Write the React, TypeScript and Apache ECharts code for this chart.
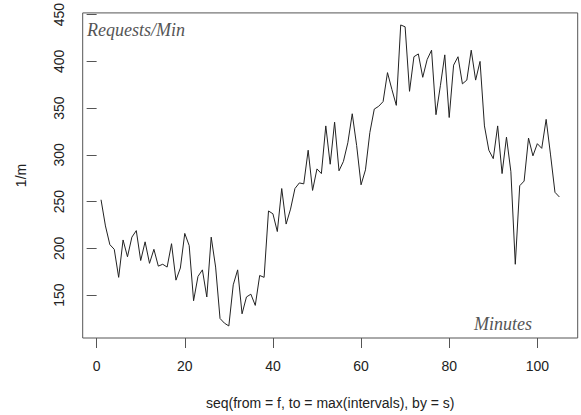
import React, { useEffect, useRef } from "react";
import * as echarts from "echarts";

// Requests per minute (x = 1..105)
const requestsPerMin: number[] = [
  252, 224, 204, 199, 169, 209, 191, 212, 219, 187,
  207, 184, 199, 181, 183, 180, 205, 166, 179, 216,
  203, 144, 170, 177, 148, 212, 180, 125, 120, 117,
  161, 177, 130, 148, 151, 139, 171, 169, 240, 237,
  218, 264, 226, 242, 264, 270, 269, 305, 262, 285,
  280, 331, 290, 335, 283, 293, 313, 344, 310, 268,
  284, 324, 349, 352, 357, 388, 370, 353, 439, 437,
  368, 405, 408, 383, 402, 412, 343, 374, 407, 340,
  396, 405, 376, 380, 412, 380, 400, 331, 305, 296,
  331, 280, 319, 282, 183, 267, 272, 318, 299, 312,
  307, 338, 300, 260, 255,
];
const minutes: number[] = requestsPerMin.map((_, i) => i + 1);

const xTicks: number[] = [0, 20, 40, 60, 80, 100];
const yTicks: number[] = [150, 200, 250, 300, 350, 400, 450];

const xTitle = "seq(from = f, to = max(intervals), by = s)";
const yTitle = "1/m";
const topLabel = "Requests/Min";
const bottomLabel = "Minutes";

// R-style 4% axis extension
function extend(lo: number, hi: number): [number, number] {
  const d = (hi - lo) * 0.04;
  return [lo - d, hi + d];
}

export default function App() {
  const ref = useRef<HTMLDivElement>(null);
  useEffect(() => {
    if (!ref.current) return;
    const chart = echarts.init(ref.current, null, { renderer: "svg" });
    const [xMin, xMax] = extend(Math.min(...minutes), Math.max(...minutes));
    const [yMin, yMax] = extend(Math.min(...requestsPerMin), Math.max(...requestsPerMin));
    const axisFont = "'Liberation Sans', Arial, Helvetica, sans-serif";
    chart.setOption({
      animation: false,
      backgroundColor: "#ffffff",
      grid: {
        show: true,
        left: 82.7,
        right: 3.3,
        top: 9,
        bottom: 76,
        borderColor: "#555",
        borderWidth: 1,
        backgroundColor: "transparent",
      },
      xAxis: {
        type: "value",
        min: xMin,
        max: xMax,
        axisLine: { show: false },
        splitLine: { show: false },
        axisTick: {
          show: true,
          inside: false,
          length: 10,
          customValues: xTicks,
          lineStyle: { color: "#555", width: 1 },
        },
        axisLabel: {
          customValues: xTicks,
          margin: 21,
          fontSize: 14,
          color: "#222",
          fontFamily: axisFont,
          hideOverlap: false,
        },
        name: xTitle,
        nameLocation: "middle",
        nameGap: 58,
        nameTextStyle: { fontSize: 14, color: "#222", fontFamily: axisFont },
      },
      yAxis: {
        type: "value",
        min: yMin,
        max: yMax,
        axisLine: { show: false },
        splitLine: { show: false },
        axisTick: {
          show: true,
          inside: false,
          length: 10,
          customValues: yTicks,
          lineStyle: { color: "#555", width: 1 },
        },
        axisLabel: {
          customValues: yTicks,
          rotate: 90,
          margin: 17,
          fontSize: 14,
          color: "#222",
          fontFamily: axisFont,
          hideOverlap: false,
        },
        name: yTitle,
        nameLocation: "middle",
        nameGap: 55,
        nameRotate: 90,
        nameTextStyle: { fontSize: 14, color: "#222", fontFamily: axisFont },
      },
      graphic: [
        {
          type: "text",
          left: 87,
          top: 21,
          style: {
            text: topLabel,
            font: "italic 18px 'Liberation Serif', 'DejaVu Serif', serif",
            fill: "#555",
          },
        },
        {
          type: "text",
          right: 49,
          top: 315,
          style: {
            text: bottomLabel,
            font: "italic 18px 'Liberation Serif', 'DejaVu Serif', serif",
            fill: "#555",
          },
        },
      ],
      series: [
        {
          type: "line",
          data: minutes.map((m, i) => [m, requestsPerMin[i]]),
          symbol: "none",
          lineStyle: { color: "#222", width: 1 },
        },
      ],
    });
    return () => chart.dispose();
  }, []);
  return (
    <div
      ref={ref}
      style={{ position: "fixed", left: 0, top: 0, width: 581, height: 415 }}
    />
  );
}
